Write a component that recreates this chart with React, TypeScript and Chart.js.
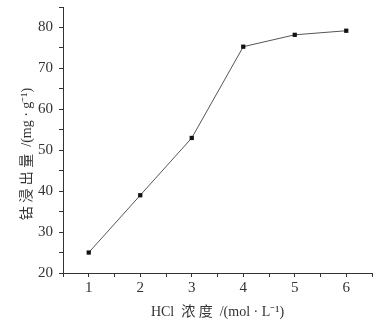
import React, { useEffect, useRef } from "react";
import { Chart, registerables } from "chart.js";

Chart.register(...registerables);

const concentrations = [1, 2, 3, 4, 5, 6];
const cobaltLeached = [25, 39, 53, 75.3, 78.2, 79.2];
const xTitle = "HCl  浓 度  /(mol · L⁻¹)";
const yTitle = "钴 浸 出 量  /(mg · g⁻¹)\u2003\u2003";

export default function App() {
  const ref = useRef<HTMLCanvasElement>(null);
  useEffect(() => {
    document.body.style.margin = "0";
    const ctx = ref.current!;
    const family = "'Liberation Serif', 'Noto Sans CJK SC', serif";
    const chart = new Chart(ctx, {
      type: "line",
      data: {
        datasets: [
          {
            data: concentrations.map((x, i) => ({ x, y: cobaltLeached[i] })),
            borderColor: "#555",
            borderWidth: 1,
            pointStyle: "rect",
            pointRadius: 3,
            pointBackgroundColor: "#111",
            pointBorderColor: "#111",
            pointBorderWidth: 0,
            tension: 0,
          },
        ],
      },
      options: {
        animation: false,
        responsive: false,
        layout: { padding: { top: 0, right: 17, left: 0, bottom: 0 } },
        plugins: { legend: { display: false }, tooltip: { enabled: false } },
        scales: {
          x: {
            type: "linear",
            min: 0.5,
            max: 6.5,
            afterFit: (s: any) => { s.height = 52; s.paddingRight = 0; s.paddingLeft = 0; },
            ticks: {
              stepSize: 0.5,
              autoSkip: false,
              maxRotation: 0,
              color: "#333",
              font: { family, size: 15 },
              padding: 2,
              callback: (v: any) => (Number.isInteger(v) ? String(v) : ""),
            },
            grid: { drawOnChartArea: false, drawTicks: true, tickLength: 4, color: "#333" },
            border: { display: true, color: "#333", width: 1 },
            title: {
              display: true,
              text: xTitle,
              color: "#333",
              font: { family, size: 14 },
              padding: { top: 4 },
            },
          },
          y: {
            min: 20,
            max: 85,
            afterFit: (s: any) => { s.width = 63; s.paddingTop = 7; s.paddingBottom = 0; },
            ticks: {
              stepSize: 5,
              autoSkip: false,
              color: "#333",
              font: { family, size: 15 },
              padding: 6,
              callback: (v: any) => (v % 10 === 0 ? String(v) : ""),
            },
            grid: { drawOnChartArea: false, drawTicks: true, tickLength: 4, color: "#333" },
            border: { display: true, color: "#333", width: 1 },
            title: {
              display: true,
              text: yTitle,
              color: "#333",
              font: { family, size: 14 },
              padding: { top: 19, bottom: 2 },
            },
          },
        },
      },
    });
    return () => chart.destroy();
  }, []);
  return <canvas ref={ref} width={389} height={325} style={{ display: "block" }} />;
}
